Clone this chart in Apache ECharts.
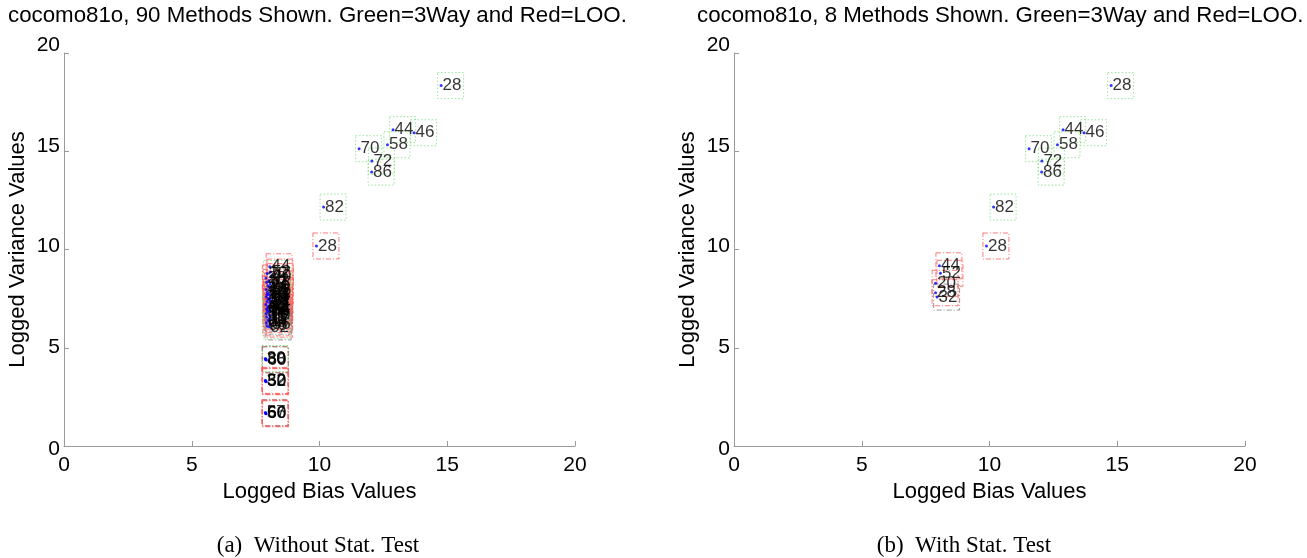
<!DOCTYPE html>
<html>
<head>
<meta charset="utf-8">
<script src="https://cdn.jsdelivr.net/npm/echarts@6/dist/echarts.min.js"></script>
<style>
html,body{margin:0;padding:0;background:#fff;}
#chart{width:1307px;height:558px;}
</style>
</head>
<body>
<div id="chart"></div>
<script>
// ---- data ----
const titleLeft = 'cocomo81o, 90 Methods Shown. Green=3Way and Red=LOO.';
const titleRight = 'cocomo81o, 8 Methods Shown. Green=3Way and Red=LOO.';
const captionLeft = '(a)  Without Stat. Test';
const captionRight = '(b)  With Stat. Test';
const xTicks = [0, 5, 10, 15, 20];
const yTicks = [0, 5, 10, 15, 20];

// shared high-variance points (both panels)
const topLabels = ['28','44','46','58','70','72','86','82','28'];
const topX = [14.76, 12.88, 13.70, 12.66, 11.55, 12.05, 12.04, 10.16, 9.88];
const topY = [18.34, 16.10, 15.94, 15.33, 15.13, 14.50, 13.94, 12.16, 10.18];
const topType = ['G','G','G','G','G','G','G','G','R'];

// left panel: low-bias cluster (without stat. test)
const leftLabels = ['44','52','20','40','28','32','12','16','24','36','48','56','64','68','76','84','10','14','18','22',
                    '26','34','38','42','50','54','62','66','74','78','88','90','11','17','11','17','60','06','08','02',
                    '30','80','38','60', '32','52','30','50', '57','66','50','60'];
const leftX = [8.05,8.08,7.95,8.10,7.90,8.02,7.93,8.07,7.98,8.04,7.91,8.09,7.96,8.01,7.94,8.06,7.92,8.03,7.99,8.08,
               7.95,8.05,7.90,8.02,7.97,8.07,7.93,8.04,7.96,8.00,7.91,8.06,7.94,8.05,7.98,8.02,7.92,8.07,7.95,8.01,
               7.88,7.90,7.89,7.91, 7.88,7.90,7.89,7.91, 7.88,7.90,7.89,7.91];
const leftY = [9.12,8.85,8.78,8.62,8.55,8.41,8.33,8.24,8.15,8.08,7.97,7.90,7.82,7.74,7.70,7.66,7.58,7.51,7.45,7.43,
               7.36,7.28,7.20,7.13,7.05,7.02,6.97,6.90,6.88,6.82,6.74,6.66,6.58,6.50,6.43,6.35,6.27,6.20,6.12,6.06,
               4.45,4.43,4.40,4.38, 3.34,3.31,3.29,3.27, 1.70,1.68,1.66,1.64];
const leftType = ['R','R','G','R','R','G','R','R','R','G','R','R','R','G','R','R','R','G','R','R',
                  'R','R','G','R','R','R','G','R','R','R','G','R','R','K','R','K','R','R','G','K',
                  'G','G','R','K', 'R','R','R','R', 'R','K','R','R'];

// right panel: low-bias cluster (with stat. test)
const rightLabels = ['44','52','20','28','32'];
const rightX = [8.04, 8.08, 7.89, 7.89, 7.95];
const rightY = [9.17, 8.79, 8.28, 7.80, 7.58];
const rightType = ['R','R','R','R','K'];

// ---- styling ----
const boxStyle = {
  G: {borderColor: '#7ee07e', borderType: [1.5, 2]},
  R: {borderColor: '#ff5a5a', borderType: [5, 2, 1, 2]},
  K: {borderColor: '#808080', borderType: [5, 2, 1, 2]}
};
const FONT = 'Liberation Sans, Arial, sans-serif';
// small vertical nudges of the y tick labels (px, negative = up)
const yLabelShift = {0: 3, 5: -1, 10: -3, 15: -5, 20: -8};

function pts(xs, ys, labels, types) {
  return xs.map((x, i) => ({x: x, y: ys[i], label: labels[i], type: types[i]}));
}
const leftPts = pts(topX, topY, topLabels, topType).concat(pts(leftX, leftY, leftLabels, leftType));
const rightPts = pts(topX, topY, topLabels, topType).concat(pts(rightX, rightY, rightLabels, rightType));

function panelSeries(points, idx) {
  return [
    {
      type: 'scatter', xAxisIndex: idx, yAxisIndex: idx, silent: true, z: 2,
      symbol: 'rect', symbolSize: [26, 26], symbolOffset: [9.5, 0],
      data: points.map(p => ({
        value: [p.x, p.y],
        itemStyle: Object.assign({color: 'rgba(0,0,0,0)', borderWidth: 1}, boxStyle[p.type])
      }))
    },
    {
      type: 'scatter', xAxisIndex: idx, yAxisIndex: idx, silent: true, z: 3,
      symbol: 'circle', symbolSize: 3,
      itemStyle: {color: '#0000ff'},
      label: {
        show: true, position: 'right', distance: 0, formatter: p => p.name,
        color: '#000', fontSize: 17, fontFamily: FONT
      },
      labelLayout: {hideOverlap: false},
      data: points.map(p => ({name: p.label, value: [p.x, p.y]}))
    }
  ];
}

const yRich = {};
yTicks.forEach(v => {
  const s = yLabelShift[v] || 0;
  yRich['t' + v] = {fontSize: 21, fontFamily: FONT, color: '#000',
    padding: s < 0 ? [0, 0, -2 * s, 0] : [2 * s, 0, 0, 0]};
});

function xAxis(idx) {
  return {
    gridIndex: idx, type: 'value', min: 0, max: 20, interval: 5,
    name: 'Logged Bias Values', nameLocation: 'middle', nameGap: 31,
    nameTextStyle: {fontSize: 22, fontFamily: FONT, color: '#000'},
    axisLine: {show: true, lineStyle: {color: '#9a9a9a', width: 1}},
    axisTick: {show: true, inside: true, length: 5, lineStyle: {color: '#9a9a9a'}},
    axisLabel: {fontSize: 21, fontFamily: FONT, color: '#000', margin: 9,
                formatter: v => xTicks.includes(v) ? String(v) : ''},
    splitLine: {show: false}
  };
}
function yAxis(idx) {
  return {
    gridIndex: idx, type: 'value', min: 0, max: 20, interval: 5,
    name: 'Logged Variance Values', nameLocation: 'middle', nameGap: 35,
    nameTextStyle: {fontSize: 22, fontFamily: FONT, color: '#000'},
    axisLine: {show: true, lineStyle: {color: '#9a9a9a', width: 1}},
    axisTick: {show: true, inside: true, length: 5, lineStyle: {color: '#9a9a9a'}},
    axisLabel: {fontSize: 21, fontFamily: FONT, color: '#000', margin: 4,
                formatter: v => yTicks.includes(v) ? '{t' + v + '|' + v + '}' : '',
                rich: yRich},
    splitLine: {show: false}
  };
}

const chart = echarts.init(document.getElementById('chart'), null, {renderer: 'canvas'});
chart.setOption({
  animation: false,
  backgroundColor: '#fff',
  title: [
    {text: titleLeft, left: 3, top: 0, textStyle: {fontSize: 22.3, fontWeight: 'normal', fontFamily: FONT, color: '#000'}},
    {text: titleRight, left: 692, top: 0, textStyle: {fontSize: 22.3, fontWeight: 'normal', fontFamily: FONT, color: '#000'}}
  ],
  graphic: [
    {type: 'text', x: 318, y: 546, style: {text: captionLeft, align: 'center', verticalAlign: 'middle',
      font: '23px "Liberation Serif", "Times New Roman", serif', fill: '#000'}},
    {type: 'text', x: 964, y: 546, style: {text: captionRight, align: 'center', verticalAlign: 'middle',
      font: '23px "Liberation Serif", "Times New Roman", serif', fill: '#000'}}
  ],
  grid: [
    {left: 64, top: 53, width: 511, height: 393},
    {left: 734, top: 53, width: 511, height: 393}
  ],
  xAxis: [xAxis(0), xAxis(1)],
  yAxis: [yAxis(0), yAxis(1)],
  series: panelSeries(leftPts, 0).concat(panelSeries(rightPts, 1))
});
</script>
</body>
</html>
